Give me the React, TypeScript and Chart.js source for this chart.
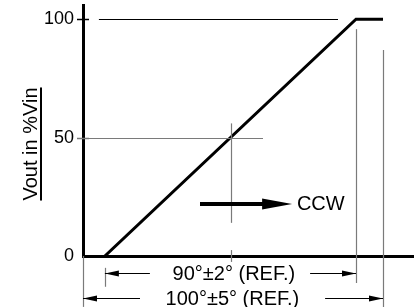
import React, { useEffect, useRef } from "react";
import { Chart, registerables } from "chart.js";
Chart.register(...registerables);

// Transfer curve (x: shaft angle in drawing units, y: Vout in %Vin)
const curveX = [7.3, 91, 100];
const curveY = [0, 100, 100];
const yTicks = [0, 50, 100];
const yLabel = "Vout in %Vin";
const dirLabel = "CCW";
const dimLabels = ["90°±2° (REF.)", "100°±5° (REF.)"];

// reference / dimension geometry in data units
const topRefLine = [5.3, 85, 100]; // x0, x1, y
const midRefH = [0, 60, 50]; // x0, x1, y
const midRefV = [49.25, 56, 14]; // x, y0, y1
const midTick = [49.25, 2.5, -2.5];
const extLines = [
  [0, 0, -21.5],
  [7.3, -5, -13],
  [91, 95.8, -11.4],
  [100, 87, -21.5],
];
const dimRowsY = [-7.2, -17.7];
const dimLeft = [
  [7.3, 22.3],
  [0, 19],
];
const dimRight = [
  [75.7, 91],
  [80.7, 100],
];
const dimTextX = [50.3, 49.8];
const ccwArrow = [39, 59.7, 69.7, 22]; // tail x, head base x, tip x, y
const ccwTextX = 71.3;

const FONT = '"Liberation Sans", Arial, Helvetica, sans-serif';

const overlay = {
  id: "overlay",
  afterDraw(chart: any) {
    const ctx = chart.ctx;
    const xs = chart.scales.x;
    const ys = chart.scales.y;
    const px = (v: number) => xs.getPixelForValue(v);
    const py = (v: number) => ys.getPixelForValue(v);
    const line = (x1: number, y1: number, x2: number, y2: number, c: string, w: number) => {
      ctx.save();
      ctx.strokeStyle = c;
      ctx.lineWidth = w;
      ctx.beginPath();
      ctx.moveTo(x1, y1);
      ctx.lineTo(x2, y2);
      ctx.stroke();
      ctx.restore();
    };
    const head = (tx: number, ty: number, dir: number, len: number, hh: number) => {
      ctx.save();
      ctx.fillStyle = "#000";
      ctx.beginPath();
      ctx.moveTo(tx, ty);
      ctx.lineTo(tx - dir * len, ty - hh);
      ctx.lineTo(tx - dir * len, ty + hh);
      ctx.closePath();
      ctx.fill();
      ctx.restore();
    };
    const gray = "#7a7a7a";

    // y ticks crossing the axis
    const ax = xs.left;
    yTicks.forEach((v) => {
      if (v === 0) return;
      line(ax - 6, Math.round(py(v)) + 0.5, ax + 6, Math.round(py(v)) + 0.5, v === 50 ? gray : "#000", 1.5);
    });

    // reference lines
    line(px(topRefLine[0]), Math.round(py(topRefLine[2])) + 0.5, px(topRefLine[1]), Math.round(py(topRefLine[2])) + 0.5, "#000", 1);
    line(px(midRefH[0]), Math.round(py(midRefH[2])) + 0.5, px(midRefH[1]), Math.round(py(midRefH[2])) + 0.5, gray, 1.2);
    line(Math.round(px(midRefV[0])) + 0.5, py(midRefV[1]), Math.round(px(midRefV[0])) + 0.5, py(midRefV[2]), gray, 1.2);
    line(Math.round(px(midTick[0])) + 0.5, py(midTick[1]), Math.round(px(midTick[0])) + 0.5, py(midTick[2]), gray, 1.2);

    // extension lines
    extLines.forEach(([x, y0, y1]) => {
      const X = Math.round(px(x)) + 0.5;
      line(X, py(y0), X, py(y1), gray, 1.2);
    });

    // dimension arrows
    dimRowsY.forEach((yv, i) => {
      const Y = Math.round(py(yv)) + 0.5;
      const [lt, lTail] = dimLeft[i];
      line(px(lt), Y, px(lTail), Y, "#000", 1);
      head(px(lt), Y, -1, 14, 3);
      const [rTail, rt] = dimRight[i];
      line(px(rTail), Y, px(rt), Y, "#000", 1);
      head(px(rt), Y, 1, 14, 3);
      ctx.save();
      ctx.fillStyle = "#000";
      ctx.font = `20px ${FONT}`;
      ctx.textAlign = "center";
      ctx.textBaseline = "middle";
      ctx.fillText(dimLabels[i], px(dimTextX[i]), Y + 1);
      ctx.restore();
    });

    // CCW arrow
    const [tail, base, tip, cy] = ccwArrow;
    const CY = py(cy);
    line(px(tail), CY, px(base) + 2, CY, "#000", 4);
    head(px(tip), CY, 1, px(tip) - px(base), 5.5);
    ctx.save();
    ctx.fillStyle = "#000";
    ctx.font = `20px ${FONT}`;
    ctx.textAlign = "left";
    ctx.textBaseline = "middle";
    ctx.fillText(dirLabel, px(ccwTextX), CY + 1);
    ctx.restore();

    // y axis title, underlined
    ctx.save();
    ctx.translate(31, 144);
    ctx.rotate(-Math.PI / 2);
    ctx.font = `20px ${FONT}`;
    ctx.fillStyle = "#000";
    ctx.textAlign = "center";
    ctx.textBaseline = "middle";
    ctx.fillText(yLabel, 0, 0);
    const w = ctx.measureText(yLabel).width;
    ctx.fillRect(-w / 2, 9, w, 2);
    ctx.restore();
  },
};

export default function App() {
  const ref = useRef<HTMLCanvasElement | null>(null);
  useEffect(() => {
    document.body.style.margin = "0";
    const canvas = ref.current;
    if (!canvas) return;
    const chart = new Chart(canvas, {
      type: "line",
      data: {
        datasets: [
          {
            data: curveX.map((x, i) => ({ x, y: curveY[i] })),
            borderColor: "#000",
            borderWidth: 3,
            pointRadius: 0,
            tension: 0,
            fill: false,
          },
        ],
      },
      options: {
        animation: false,
        responsive: false,
        devicePixelRatio: 1,
        layout: { padding: { top: 5, right: 3, left: 0, bottom: 0 } },
        plugins: { legend: { display: false }, tooltip: { enabled: false } },
        scales: {
          x: {
            type: "linear",
            min: 0,
            max: 110,
            ticks: { display: false },
            grid: { display: false, drawTicks: false },
            border: { display: true, color: "#000", width: 3 },
            afterFit: (s: any) => {
              s.height = 51;
              s.paddingLeft = 0;
              s.paddingRight = 0;
            },
          },
          y: {
            type: "linear",
            min: 0,
            max: 106,
            afterBuildTicks: (s: any) => {
              s.ticks = yTicks.map((v) => ({ value: v }));
            },
            ticks: { padding: 9, color: "#000", font: { size: 18, family: FONT } },
            grid: { display: false, drawTicks: false },
            border: { display: true, color: "#000", width: 3 },
            afterFit: (s: any) => {
              s.width = 83;
              s.paddingTop = 0;
              s.paddingBottom = 0;
            },
          },
        },
      },
      plugins: [overlay],
    } as any);
    return () => chart.destroy();
  }, []);
  return (
    <div style={{ width: 416, height: 307, background: "#fff" }}>
      <canvas ref={ref} width={416} height={307} style={{ display: "block" }} />
    </div>
  );
}
